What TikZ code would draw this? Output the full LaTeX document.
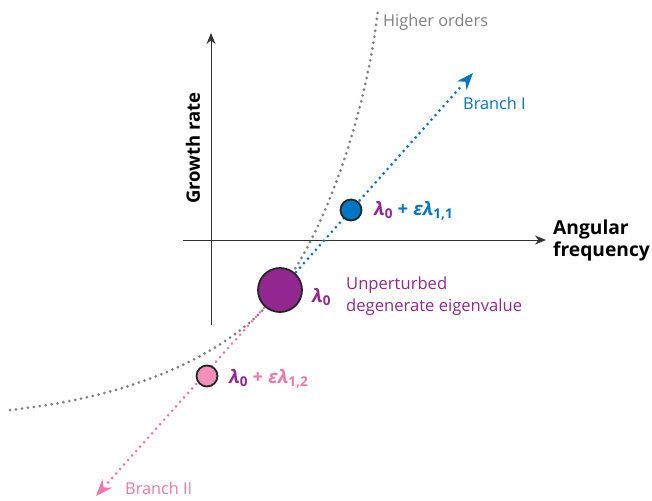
\documentclass[tikz,border=0pt]{standalone}
\usepackage{fontspec}
\setmainfont{Open Sans}
\usetikzlibrary{arrows.meta,calc}
\definecolor{cblue}{RGB}{0,118,196}
\definecolor{cpurple}{RGB}{146,39,143}
\definecolor{cpink}{RGB}{238,120,170}
\definecolor{cpinkfill}{RGB}{244,143,185}
\definecolor{cgray}{RGB}{128,128,128}
\definecolor{caxis}{RGB}{50,50,50}
\tikzset{
  dotline/.style={line width=3pt, line cap=round, dash pattern=on 0pt off 6pt},
  axisline/.style={line width=1pt, draw=caxis, -{Stealth[length=11pt,width=9pt]}},
  dot/.style={circle, draw=black!85, line width=1.8pt, inner sep=0pt},
  lbl/.style={font=\fontsize{16.3}{18}\selectfont, inner sep=0pt},
  tipI/.style={-{Stealth[length=17pt,width=13pt]}, line width=1pt},
}
\newcommand{\lamz}{\textbf{\textit{λ}}\raisebox{-0.35ex}{\fontsize{13.5}{14}\selectfont\textbf{0}}}
\begin{document}
\begin{tikzpicture}[x=1pt,y=-1pt]
\useasboundingbox (0,0) rectangle (652,500);
% axes
\coordinate (xs) at (183,240);
\coordinate (xe) at (546,240);
\coordinate (ys) at (211,325);
\coordinate (ye) at (211,33);
\draw[axisline] (xs) -- (xe);
\draw[axisline] (ys) -- (ye);
% gray curve
\coordinate (gs) at (10,410);
\coordinate (gm) at (280,290);
\coordinate (ge) at (378,9);
\draw[dotline, cgray] (gs) .. controls (150,395) and (240,345) .. (gm)
  .. controls (322,238) and (366,118) .. (ge);
% branch lines
\coordinate (bI) at (473,73);
\coordinate (bII) at (96,496);
\coordinate (c0) at (280,290);
\draw[dotline, cblue] (c0) -- ($(bI)!0.06!(c0)$);
\draw[cblue, tipI] ($(bI)!0.03!(c0)$) -- (bI);
\draw[dotline, cpink] (c0) -- ($(bII)!0.06!(c0)$);
\draw[cpink, tipI] ($(bII)!0.03!(c0)$) -- (bII);
% circles
\node[dot, fill=cpurple, minimum size=44pt] (L0) at (c0) {};
\node[dot, fill=cblue, minimum size=21pt] (L1) at (351,210) {};
\node[dot, fill=cpinkfill, minimum size=21pt] (L2) at (207,376) {};
% labels
\node[lbl, anchor=west, text=cgray] (ho) at (383,22) {Higher orders};
\node[lbl, anchor=west, text=cblue] (brI) at (463,103) {Branch I};
\node[lbl, anchor=west, text=cpink] (brII) at (125,488) {Branch II};
\node[font=\bfseries\fontsize{18.5}{20}\selectfont, rotate=90, inner sep=0pt] (gr) at (193,148) {Growth rate};
\node[font=\bfseries\fontsize{19.2}{22}\selectfont, align=left, anchor=west, inner sep=0pt] (af) at (553,241) {Angular\\frequency};
\node[font=\fontsize{18.5}{20}\selectfont, anchor=west, inner sep=0pt] (t1) at (374,211) {\textcolor{cpurple}{\lamz}\textcolor{cblue}{\;\textbf{+}\;\textbf{\textit{ελ}}\raisebox{-0.35ex}{\fontsize{13.5}{14}\selectfont\textbf{1,1}}}};
\node[font=\fontsize{18.5}{20}\selectfont, anchor=west, inner sep=0pt, text=cpurple] (t0) at (312,297) {\lamz};
\node[font=\fontsize{16.6}{22}\selectfont, anchor=west, align=left, inner sep=0pt, text=cpurple] (ud) at (346,296) {Unperturbed\\degenerate eigenvalue};
\node[font=\fontsize{18.5}{20}\selectfont, anchor=west, inner sep=0pt] (t2) at (229,379) {\textcolor{cpurple}{\lamz}\textcolor{cpink}{\;\textbf{+}\;\textbf{\textit{ελ}}\raisebox{-0.35ex}{\fontsize{13.5}{14}\selectfont\textbf{1,2}}}};
\end{tikzpicture}
\end{document}
